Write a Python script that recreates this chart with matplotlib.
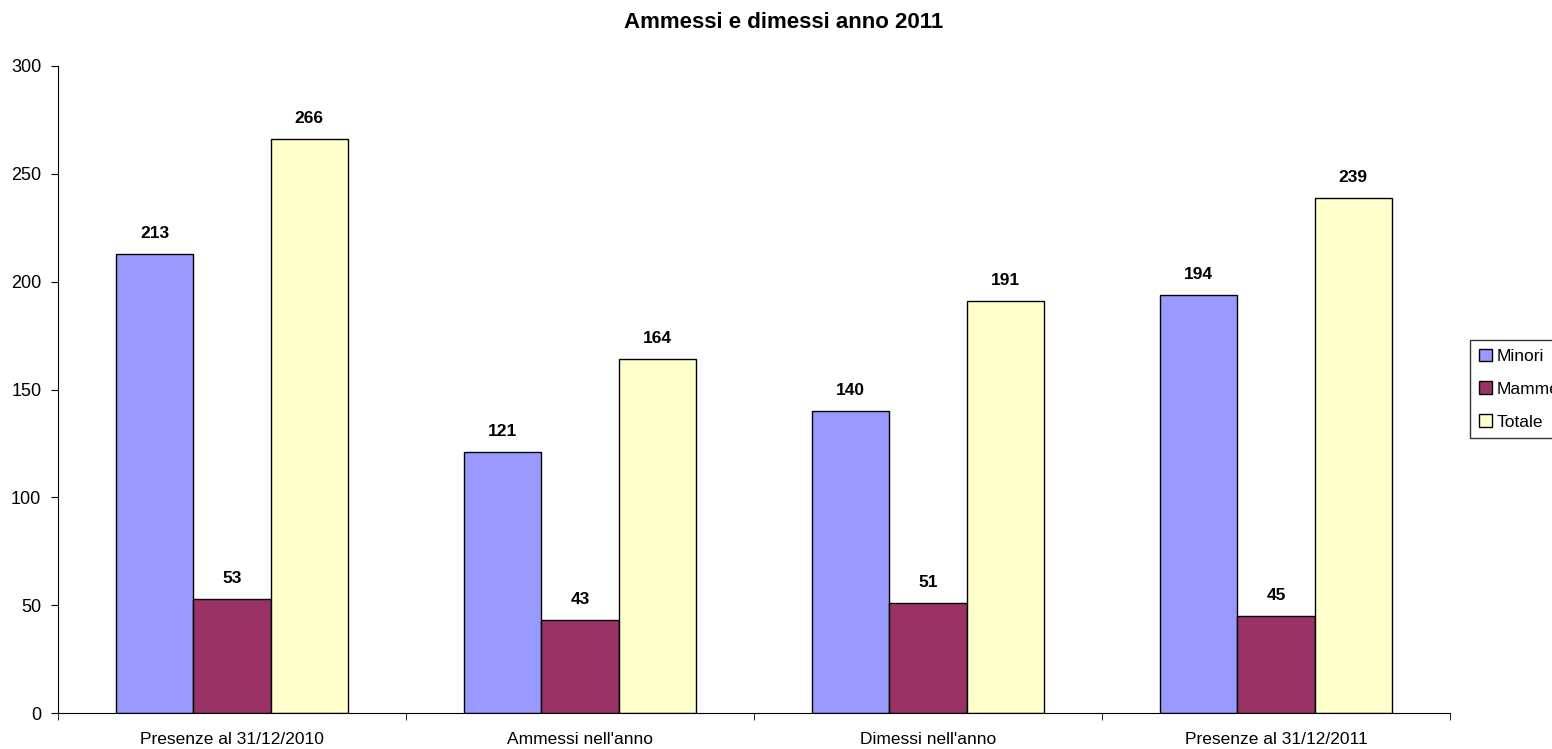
import numpy as np
import matplotlib.pyplot as plt
from matplotlib.ticker import FixedLocator

plt.rcParams['font.family'] = ['Liberation Sans', 'DejaVu Sans']

categorie = ['Presenze al 31/12/2010', "Ammessi nell'anno", "Dimessi nell'anno", 'Presenze al 31/12/2011']
serie = ['Minori', 'Mamme', 'Totale']
minori = [213, 121, 140, 194]
mamme = [53, 43, 51, 45]
totale = [266, 164, 191, 239]
colori = ['#9999FF', '#993366', '#FFFFCC']

fig = plt.figure(figsize=(15.52, 7.49), dpi=100)
ax = fig.add_axes([58 / 1552, 1 - 713 / 749, (1450 - 58) / 1552, (713 - 66) / 749])

x = np.arange(len(categorie))
w = 0.222
for i, (nome, valori) in enumerate(zip(serie, [minori, mamme, totale])):
    barre = ax.bar(x + (i - 1) * w, valori, w, color=colori[i], edgecolor='black',
                   linewidth=1.0, label=nome)
    for b, v in zip(barre, valori):
        ax.text(b.get_x() + b.get_width() / 2, v + 6, str(v), ha='center', va='bottom',
                fontsize=12.5, fontweight='bold')

ax.set_xlim(-0.5, len(categorie) - 0.5)
ax.set_ylim(0, 300)
ax.set_yticks(range(0, 301, 50))
ax.set_xticks(x)
ax.set_xticklabels(categorie, fontsize=12.5)
ax.tick_params(axis='x', which='major', length=0, pad=14)
ax.xaxis.set_minor_locator(FixedLocator(np.arange(-0.5, len(categorie), 1)))
ax.tick_params(axis='x', which='minor', length=5, direction='out')
ax.tick_params(axis='y', labelsize=13, length=5, pad=7, direction='out')
ax.spines['top'].set_visible(False)
ax.spines['right'].set_visible(False)

fig.suptitle('Ammessi e dimessi anno 2011', x=0.505, y=0.984, fontsize=16, fontweight='bold')

leg = fig.legend(loc='upper left', bbox_to_anchor=(1470 / 1552, 1 - 340 / 749), fontsize=12.5,
                 frameon=True, fancybox=False, edgecolor='black', handlelength=0.75,
                 handleheight=0.75, handletextpad=0.3, labelspacing=1.0, borderpad=0.5,
                 borderaxespad=0)
leg.get_frame().set_linewidth(1.0)

fig.savefig('out.png', dpi=100)
